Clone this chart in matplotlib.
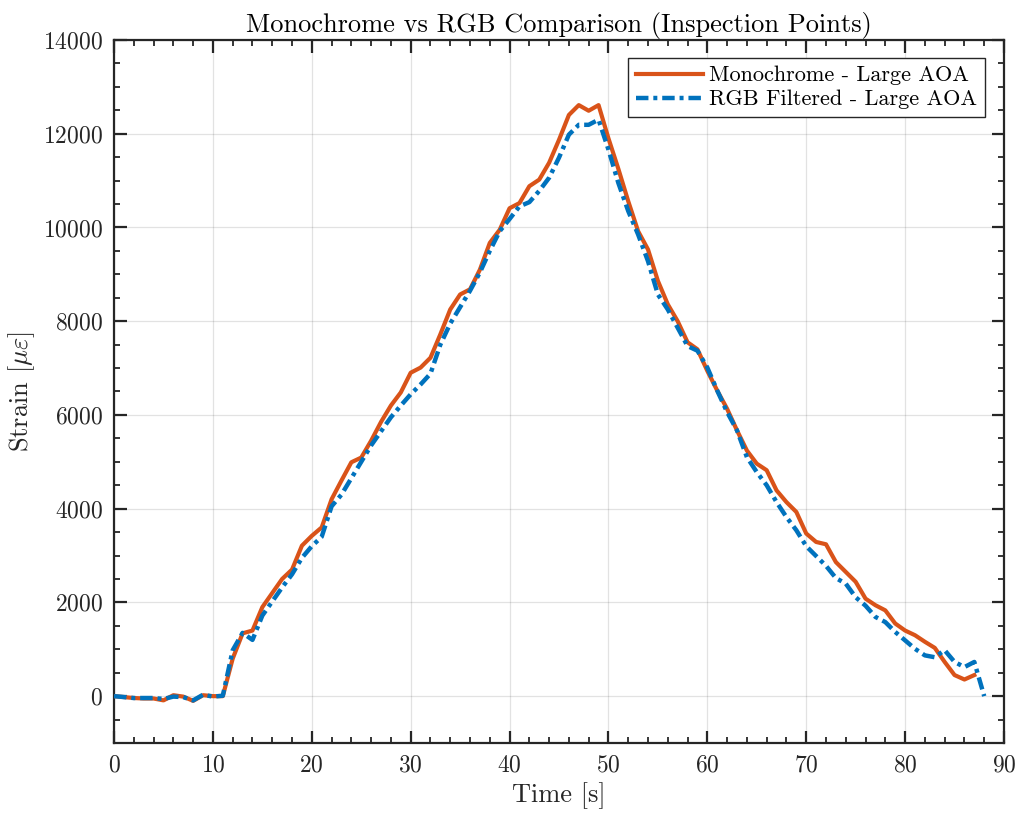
import matplotlib
matplotlib.use("Agg")
import matplotlib.pyplot as plt
from matplotlib.ticker import MultipleLocator
import numpy as np

plt.rcParams['font.family'] = 'serif'
plt.rcParams['font.serif'] = ['cmr10']
plt.rcParams['mathtext.fontset'] = 'cm'
plt.rcParams['axes.formatter.use_mathtext'] = True
plt.rcParams['axes.unicode_minus'] = False

time_mono = list(range(0, 88))
strain_mono = [0, -20, -40, -50, -50, -90, 20, -10, -100, 20, 0, 0,
               800, 1340, 1400, 1900, 2200, 2500, 2700, 3210, 3420, 3600,
               4200, 4600, 4990, 5090, 5450, 5850, 6200, 6480, 6900, 7010,
               7220, 7720, 8250, 8570, 8680, 9100, 9670, 9950, 10410, 10520,
               10880, 11020, 11380, 11870, 12400, 12610, 12490, 12610, 11900,
               11250, 10560, 9920, 9530, 8860, 8360, 8000, 7550, 7400, 6940,
               6520, 6130, 5670, 5240, 4960, 4820, 4390, 4140, 3930, 3470,
               3290, 3240, 2860, 2650, 2440, 2080, 1940, 1830, 1550, 1400,
               1300, 1160, 1030, 730, 450, 355, 450]

time_rgb = list(range(0, 89))
strain_rgb = [0, -20, -40, -40, -40, -60, -10, -20, -90, 30, -10, 10,
              980, 1350, 1200, 1720, 2020, 2320, 2600, 2950, 3200, 3400,
              4050, 4300, 4650, 5000, 5350, 5650, 5950, 6200, 6440, 6650,
              6880, 7500, 7950, 8300, 8650, 9040, 9500, 9920, 10180, 10450,
              10540, 10780, 11060, 11490, 11980, 12190, 12190, 12300, 11660,
              10950, 10350, 9850, 9280, 8570, 8250, 7860, 7470, 7370, 7010,
              6520, 6060, 5670, 5100, 4780, 4500, 4140, 3820, 3540, 3200,
              2990, 2780, 2520, 2400, 2110, 1930, 1690, 1580, 1370, 1190,
              1010, 870, 830, 980, 730, 620, 730, 0]

series_labels = ['Monochrome - Large AOA', 'RGB Filtered - Large AOA']
title_text = 'Monochrome vs RGB Comparison (Inspection Points)'

fig = plt.figure(figsize=(10.2, 8.14), dpi=100)
ax = fig.add_axes([0.1118, 0.0872, 0.8725, 0.8637])

orange = (0.85, 0.325, 0.098)
blue = (0.0, 0.447, 0.741)
ax.plot(time_mono, strain_mono, color=orange, lw=3.0, label=series_labels[0], zorder=3)
ax.plot(time_rgb, strain_rgb, color=blue, lw=3.2, dashes=(2.8, 1.1, 0.9, 1.1),
        label=series_labels[1], zorder=3)

ax.set_xlim(0, 90)
ax.set_ylim(-1000, 14000)
ax.xaxis.set_major_locator(MultipleLocator(10))
ax.xaxis.set_minor_locator(MultipleLocator(2))
ax.yaxis.set_major_locator(MultipleLocator(2000))
ax.yaxis.set_minor_locator(MultipleLocator(500))

ax.grid(True, which='major', color=(0.15, 0.15, 0.15), alpha=0.13, lw=0.9)
ax.set_axisbelow(True)
ax.tick_params(which='both', direction='in', top=True, right=True,
               colors=(0.15, 0.15, 0.15), labelcolor=(0.15, 0.15, 0.15))
ax.tick_params(which='major', length=9, width=1.6, labelsize=17, pad=8)
ax.tick_params(which='minor', length=4.5, width=1.3)
for s in ax.spines.values():
    s.set_linewidth(1.6)
    s.set_color((0.15, 0.15, 0.15))

ax.set_xlabel('Time [s]', fontsize=19, color=(0.15, 0.15, 0.15), labelpad=4)
ax.set_ylabel(r'Strain [$\mu\varepsilon$]', fontsize=19, color=(0.15, 0.15, 0.15), labelpad=4)
ax.set_title(title_text, fontsize=19, pad=6)

leg = ax.legend(loc='upper right', fontsize=16.0, frameon=True, fancybox=False,
                edgecolor=(0.15, 0.15, 0.15), framealpha=1, borderpad=0.35,
                handlelength=3.0, handletextpad=0.3, labelspacing=0.2,
                borderaxespad=0, bbox_to_anchor=(0.9787, 0.9744))
leg.get_frame().set_linewidth(1.0)

fig.savefig('out.png', dpi=100)
